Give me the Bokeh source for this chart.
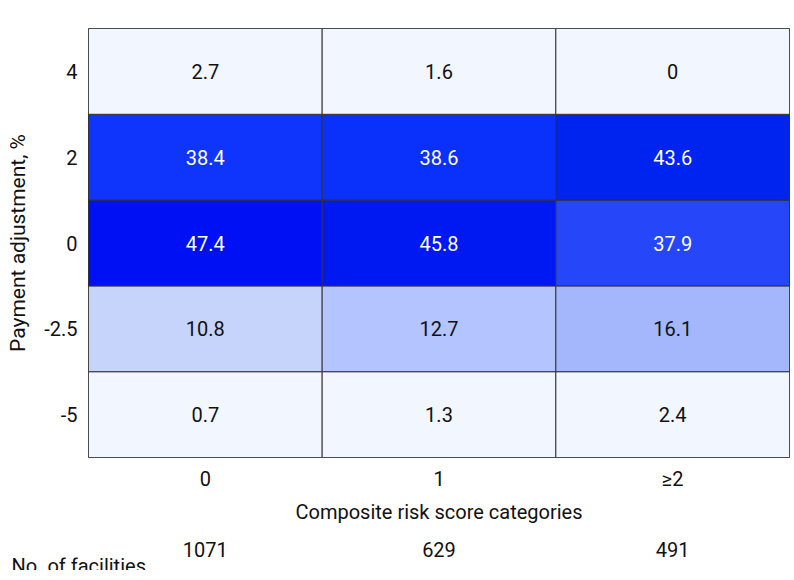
from bokeh.plotting import figure
from bokeh.models import (ColumnDataSource, LinearColorMapper, LinearAxis, Title,
                          Range1d, FixedTicker)
from bokeh.transform import transform
from bokeh.embed import file_html
from bokeh.resources import INLINE

# ---- data ----
risk_categories = ["0", "1", "≥2"]
payment_adjustments = ["-5", "-2.5", "0", "2", "4"]
facilities = ["1071", "629", "491"]
# percentage of facilities per payment adjustment (rows) and risk category (cols)
pct_4 = [2.7, 1.6, 0.0]
pct_2 = [38.4, 38.6, 43.6]
pct_0 = [47.4, 45.8, 37.9]
pct_m25 = [10.8, 12.7, 16.1]
pct_m5 = [0.7, 1.3, 2.4]

rows = {"4": pct_4, "2": pct_2, "0": pct_0, "-2.5": pct_m25, "-5": pct_m5}

nx, ny = len(risk_categories), len(payment_adjustments)
xs, ys, vals, labels, tcolors = [], [], [], [], []
for j, adj in enumerate(payment_adjustments):
    for i, v in enumerate(rows[adj]):
        xs.append(i + 0.5)
        ys.append(j + 0.5)
        vals.append(v)
        labels.append(("%.1f" % v) if v != 0 else "0")
        tcolors.append("white" if v > 30 else "#111111")

src = ColumnDataSource(dict(x=xs, y=ys, v=vals, label=labels, tc=tcolors))

# ---- palette from colour stops ----
stops = [(0, (242, 246, 255)), (3, (242, 246, 255)), (10.8, (198, 212, 252)),
         (12.7, (180, 196, 254)), (16.1, (164, 182, 252)), (37.9, (40, 72, 250)),
         (38.5, (10, 48, 252)), (43.6, (0, 36, 240)), (47.4, (0, 16, 244))]
N = 512
hi = stops[-1][0]
palette = []
for k in range(N):
    t = hi * k / (N - 1)
    for (a, ca), (b, cb) in zip(stops[:-1], stops[1:]):
        if a <= t <= b:
            f = 0 if b == a else (t - a) / (b - a)
            c = tuple(int(round(ca[m] + (cb[m] - ca[m]) * f)) for m in range(3))
            break
    palette.append("#%02x%02x%02x" % c)
mapper = LinearColorMapper(palette=palette, low=0, high=hi)

FONT = "Roboto"
FS = "20px"

p = figure(x_range=Range1d(0, nx), y_range=Range1d(0, ny),
           width=794, height=572, output_backend="svg", toolbar_location=None,
           min_border_left=88, min_border_right=5, min_border_top=28, min_border_bottom=110)
p.frame_width = 701
p.frame_height = 429

p.rect(x="x", y="y", width=1, height=1, source=src,
       fill_color=transform("v", mapper), line_color="#333333", line_width=1)
p.text(x="x", y="y", text="label", source=src, text_align="center", text_baseline="middle",
       text_color="tc", text_font_size=FS, text_font={"value": FONT})

p.grid.visible = False
p.outline_line_color = "#333333"
p.background_fill_color = "white"

xticks = [i + 0.5 for i in range(nx)]
yticks = [j + 0.5 for j in range(ny)]
p.xaxis[0].ticker = FixedTicker(ticks=xticks)
p.xaxis[0].major_label_overrides = dict(zip(xticks, risk_categories))
p.yaxis[0].ticker = FixedTicker(ticks=yticks)
p.yaxis[0].major_label_overrides = dict(zip(yticks, payment_adjustments))

for ax in (p.xaxis[0], p.yaxis[0]):
    ax.axis_line_color = None
    ax.major_tick_line_color = None
    ax.minor_tick_line_color = None
    ax.major_label_text_font = FONT
    ax.major_label_text_font_size = FS
    ax.major_label_text_color = "#111111"
    ax.axis_label_text_font = FONT
    ax.axis_label_text_font_size = FS
    ax.axis_label_text_font_style = "normal"
    ax.axis_label_text_color = "#111111"

p.xaxis[0].axis_label = "Composite risk score categories"
p.xaxis[0].major_label_standoff = 3
p.xaxis[0].axis_label_standoff = 6
p.yaxis[0].axis_label = "Payment adjustment, %"
p.yaxis[0].axis_label_text_font_size = "21px"
p.yaxis[0].major_label_standoff = 5
p.yaxis[0].axis_label_standoff = 11

fac_axis = LinearAxis(ticker=FixedTicker(ticks=xticks),
                      major_label_overrides=dict(zip(xticks, facilities)))
fac_axis.axis_line_color = None
fac_axis.major_tick_line_color = None
fac_axis.minor_tick_line_color = None
fac_axis.major_label_text_font = FONT
fac_axis.major_label_text_font_size = FS
fac_axis.major_label_text_color = "#111111"
fac_axis.major_label_standoff = 9
p.add_layout(fac_axis, "below")

p.add_layout(Title(text="No. of facilities", align="left", offset=-77, standoff=-15,
                   text_font=FONT, text_font_size=FS, text_font_style="normal",
                   text_color="#111111"), "below")

open("out.html", "w").write(file_html(p, INLINE))
